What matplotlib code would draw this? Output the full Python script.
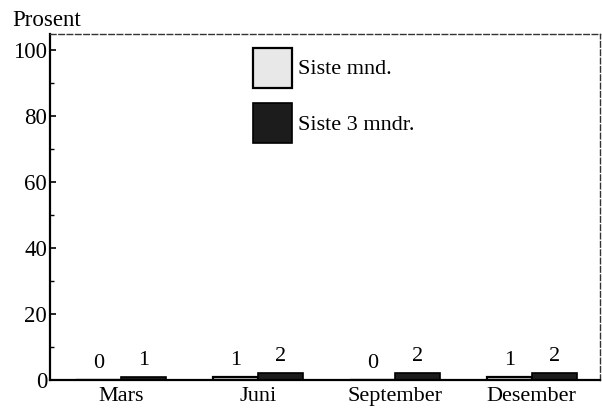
import matplotlib
matplotlib.use("Agg")
import matplotlib.pyplot as plt
import numpy as np
from matplotlib.ticker import MultipleLocator

categories = ["Mars", "Juni", "September", "Desember"]
siste_mnd = [0, 1, 0, 1]
siste_3_mndr = [1, 2, 2, 2]
series_names = ["Siste mnd.", "Siste 3 mndr."]
yticks = [0, 20, 40, 60, 80, 100]

plt.rcParams['font.family'] = ['Liberation Serif', 'DejaVu Serif']

fig = plt.figure(figsize=(6.02, 4.11), dpi=100)
ax = fig.add_axes([0.083, 0.0754, 0.914, 0.842])

x = np.arange(len(categories))
w = 0.33
b1 = ax.bar(x - w/2, siste_mnd, w, color="#e8e8e8", edgecolor="black", linewidth=1.6, label=series_names[0])
b2 = ax.bar(x + w/2, siste_3_mndr, w, color="#1c1c1c", edgecolor="black", linewidth=1.2, label=series_names[1])

for bars, vals in ((b1, siste_mnd), (b2, siste_3_mndr)):
    for rect, v in zip(bars, vals):
        ax.annotate(f"{v}", (rect.get_x() + rect.get_width()/2, rect.get_height()),
                    xytext=(0, 5), textcoords="offset points", ha="center", va="bottom",
                    fontsize=16)

ax.set_xlim(-0.52, 3.5)
ax.set_ylim(0, 104.8)
ax.set_xticks(x)
ax.set_xticklabels(categories, fontsize=16)
ax.set_yticks(yticks)
ax.set_yticklabels([str(t) for t in yticks], fontsize=16.5)
ax.yaxis.set_minor_locator(MultipleLocator(10))
ax.tick_params(axis="y", which="major", direction="in", length=4, width=1.2, pad=2)
ax.tick_params(axis="y", which="minor", direction="in", length=3, width=1.0)
ax.tick_params(axis="x", length=0, pad=5)

ax.spines["left"].set_linewidth(1.6)
ax.spines["bottom"].set_linewidth(1.6)
for s in ("top", "right"):
    ax.spines[s].set_linewidth(1.0)
    ax.spines[s].set_linestyle((0, (4, 2)))
    ax.spines[s].set_color("#333333")

fig.text(0.02, 0.925, "Prosent", fontsize=16.5, ha="left", va="bottom")

leg = ax.legend(loc="upper left", bbox_to_anchor=(0.336, 1.012), frameon=False,
                fontsize=16, handlelength=1.75, handleheight=2.4, labelspacing=0.7,
                handletextpad=0.3, borderpad=0.3)

fig.savefig("out.png", dpi=100)
